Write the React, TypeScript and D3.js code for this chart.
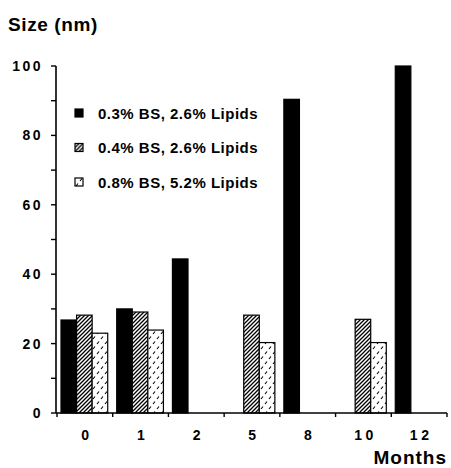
import React, { useEffect, useRef } from "react";
import * as d3 from "d3";

// months on the x axis
const months = ["0", "1", "2", "5", "8", "10", "12"];

// size (nm) per series, null where no bar is drawn
const seriesA = [26.8, 30, 44.4, null, 90.4, null, 100]; // 0.3% BS, 2.6% Lipids
const seriesB = [28.2, 29.1, null, 28.2, null, 27, null]; // 0.4% BS, 2.6% Lipids
const seriesC = [23, 23.9, null, 20.3, null, 20.3, null]; // 0.8% BS, 5.2% Lipids

const seriesNames = ["0.3% BS, 2.6% Lipids", "0.4% BS, 2.6% Lipids", "0.8% BS, 5.2% Lipids"];
const yTicks = [0, 20, 40, 60, 80, 100];
const yMinorTicks = [10, 30, 50, 70, 90];

export default function App() {
  const ref = useRef<SVGSVGElement>(null);

  useEffect(() => {
    const svg = d3.select(ref.current);
    svg.selectAll("*").remove();

    const font = "'Liberation Sans', Arial, sans-serif";
    const fills = ["#000", "url(#hatch)", "url(#dots)"];
    const allSeries = [seriesA, seriesB, seriesC];

    // ----------------- PATTERNS -----------------
    const defs = svg.append("defs");
    const hatch = defs
      .append("pattern")
      .attr("id", "hatch")
      .attr("patternUnits", "userSpaceOnUse")
      .attr("width", 4)
      .attr("height", 4);
    hatch.append("rect").attr("width", 4).attr("height", 4).attr("fill", "#fff");
    hatch
      .append("path")
      .attr("d", "M-1,1 l2,-2 M0,4 l4,-4 M3,5 l2,-2")
      .attr("stroke", "#000")
      .attr("stroke-width", 1.3);

    const dots = defs
      .append("pattern")
      .attr("id", "dots")
      .attr("patternUnits", "userSpaceOnUse")
      .attr("width", 8)
      .attr("height", 10);
    dots.append("rect").attr("width", 8).attr("height", 10).attr("fill", "#fff");
    dots
      .append("path")
      .attr("d", "M1,4 l2,-2.5 M5,9 l2,-2.5")
      .attr("stroke", "#000")
      .attr("stroke-width", 1.1);

    // ----------------- SCALES -----------------
    const x = d3.scaleBand().domain(months).range([57, 447]).padding(0);
    const xSub = d3
      .scaleBand()
      .domain(seriesNames)
      .range([4, x.bandwidth() - 5])
      .padding(0);
    const y = d3.scaleLinear().domain([0, 100]).range([413, 66]);

    // ----------------- BARS -----------------
    allSeries.forEach((values, si) => {
      svg
        .append("g")
        .selectAll("rect")
        .data(values.map((v, i) => ({ month: months[i], v })).filter(d => d.v !== null))
        .enter()
        .append("rect")
        .attr("x", d => (x(d.month) as number) + (xSub(seriesNames[si]) as number))
        .attr("y", d => y(d.v as number))
        .attr("width", xSub.bandwidth())
        .attr("height", d => y(0) - y(d.v as number))
        .attr("fill", fills[si])
        .attr("stroke", "#000")
        .attr("stroke-width", 1.2);
    });

    // ----------------- AXES -----------------
    const yAxis = svg.append("g").attr("transform", "translate(56,0)");
    yAxis
      .append("line")
      .attr("y1", y(100))
      .attr("y2", y(0))
      .attr("stroke", "#000")
      .attr("stroke-width", 1.6);
    [...yTicks, ...yMinorTicks].forEach(t => {
      yAxis
        .append("line")
        .attr("x1", -5)
        .attr("x2", 0)
        .attr("y1", y(t))
        .attr("y2", y(t))
        .attr("stroke", "#000")
        .attr("stroke-width", 1.4);
    });
    yAxis
      .selectAll("text")
      .data(yTicks)
      .enter()
      .append("text")
      .attr("x", -13)
      .attr("y", d => y(d) + 5)
      .attr("text-anchor", "end")
      .style("font-family", font)
      .style("font-weight", "bold")
      .style("font-size", "14px")
      .style("letter-spacing", "2.5px")
      .text(d => d);

    const xAxis = svg.append("g").attr("transform", `translate(0,${y(0)})`);
    xAxis
      .append("line")
      .attr("x1", 56)
      .attr("x2", 447)
      .attr("stroke", "#000")
      .attr("stroke-width", 1.6);
    [...months.map(m => x(m) as number), 447].forEach(px => {
      xAxis
        .append("line")
        .attr("x1", px)
        .attr("x2", px)
        .attr("y1", 0)
        .attr("y2", 4)
        .attr("stroke", "#000")
        .attr("stroke-width", 1.4);
    });
    xAxis
      .selectAll("text")
      .data(months)
      .enter()
      .append("text")
      .attr("x", d => (x(d) as number) + x.bandwidth() / 2)
      .attr("y", 27)
      .attr("dx", 2)
      .attr("text-anchor", "middle")
      .style("font-family", font)
      .style("font-weight", "bold")
      .style("font-size", "14px")
      .style("letter-spacing", "3.5px")
      .text(d => d);

    // ----------------- TITLES -----------------
    svg
      .append("text")
      .attr("x", 8)
      .attr("y", 31)
      .style("font-family", font)
      .style("font-weight", "bold")
      .style("font-size", "19px")
      .style("letter-spacing", "0.6px")
      .text("Size (nm)");
    svg
      .append("text")
      .attr("x", 447)
      .attr("y", 464)
      .attr("text-anchor", "end")
      .style("font-family", font)
      .style("font-weight", "bold")
      .style("font-size", "19px")
      .style("letter-spacing", "1px")
      .text("Months");

    // ----------------- LEGEND -----------------
    seriesNames.forEach((name, i) => {
      const row = svg.append("g").attr("transform", `translate(75,${113 + i * 34.5})`);
      row
        .append("rect")
        .attr("x", 0)
        .attr("y", -4)
        .attr("width", 8)
        .attr("height", 8)
        .attr("fill", fills[i])
        .attr("stroke", "#000")
        .attr("stroke-width", 1.2);
      row
        .append("text")
        .attr("x", 23)
        .attr("y", 5.5)
        .style("font-family", font)
        .style("font-weight", "bold")
        .style("font-size", "15px")
        .style("letter-spacing", "0.5px")
        .text(name);
    });
  }, []);

  return (
    <svg
      ref={ref}
      width={451}
      height={468}
      style={{ position: "absolute", left: 0, top: 0, background: "#fff" }}
    />
  );
}
